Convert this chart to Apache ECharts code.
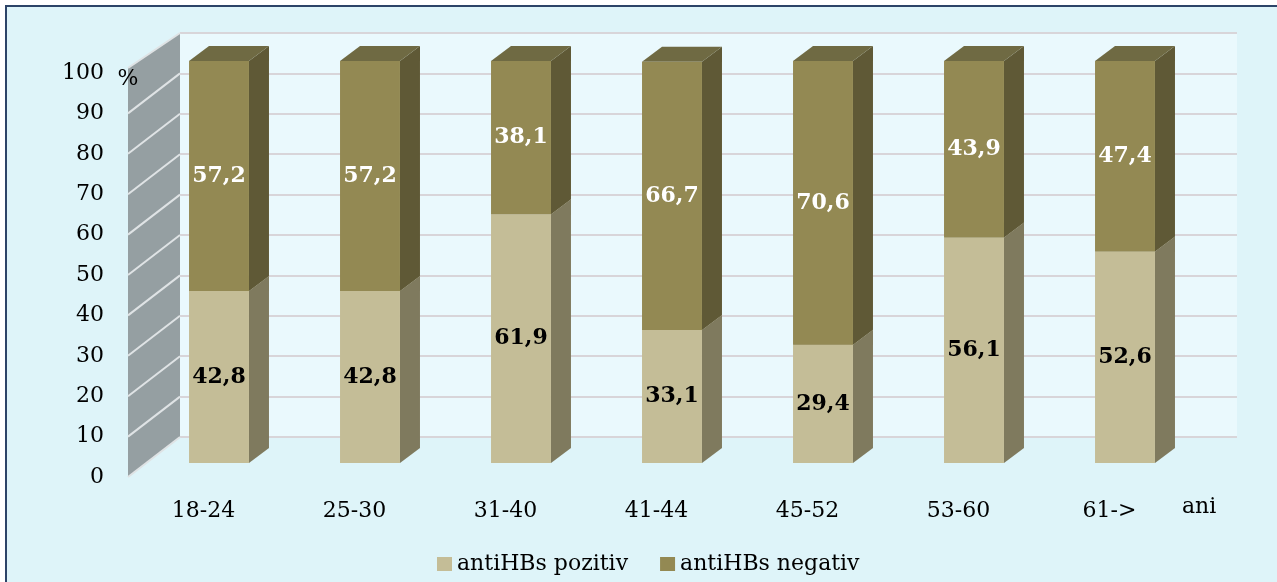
<!DOCTYPE html>
<html>
<head>
<meta charset="utf-8">
<script src="https://cdn.jsdelivr.net/npm/echarts@6/dist/echarts.min.js"></script>
<style>
  html, body { margin: 0; padding: 0; background: #fff; }
  #chart { width: 1277px; height: 582px; }
</style>
</head>
<body>
<div id="chart"></div>
<script>
// data
const categories = ["18-24", "25-30", "31-40", "41-44", "45-52", "53-60", "61->"];
const pozitiv = [42.8, 42.8, 61.9, 33.1, 29.4, 56.1, 52.6];
const negativ = [57.2, 57.2, 38.1, 66.7, 70.6, 43.9, 47.4];
const yTicks = [0, 10, 20, 30, 40, 50, 60, 70, 80, 90, 100];

const FONT = "DejaVu Serif";
const DX = 20, DY = -15;      // bar depth
const WX = 52, WY = -40;      // wall depth

const fmt = (v) => String(v).replace(".", ",");

// stacked ranges for the 3d side/top faces
const posRanges = pozitiv.map((v, i) => [i, 0, v]);
const negRanges = negativ.map((v, i) => [i, pozitiv[i], pozitiv[i] + v]);

function faces(sideColor, topColor) {
  return function (params, api) {
    const i = api.value(0);
    const lo = api.coord([i, api.value(1)]);
    const hi = api.coord([i, api.value(2)]);
    const w = api.size([1, 0])[0] * 0.397;
    const xl = lo[0] - w / 2, xr = lo[0] + w / 2;
    return {
      type: "group",
      children: [
        {
          type: "polygon",
          shape: { points: [[xr, lo[1]], [xr + DX, lo[1] + DY], [xr + DX, hi[1] + DY], [xr, hi[1]]] },
          style: { fill: sideColor }
        },
        {
          type: "polygon",
          shape: { points: [[xl, hi[1]], [xl + DX, hi[1] + DY], [xr + DX, hi[1] + DY], [xr, hi[1]]] },
          style: { fill: topColor }
        }
      ]
    };
  };
}

const myChart = echarts.init(document.getElementById("chart"));
myChart.setOption({
  backgroundColor: "#fff",
  animation: false,
  graphic: [
    {
      type: "rect",
      z: -10,
      shape: { x: 6, y: 6, width: 1290, height: 600 },
      style: { fill: "#def4f9", stroke: "#2c4468", lineWidth: 2 }
    }
  ],
  legend: {
    left: 432,
    top: 548,
    itemWidth: 15,
    itemHeight: 14,
    itemGap: 32,
    icon: "rect",
    textStyle: { fontFamily: FONT, fontSize: 22, color: "#000" },
    data: [
      { name: "antiHBs pozitiv", itemStyle: { color: "#c4bd97" } },
      { name: "antiHBs negativ", itemStyle: { color: "#938953" } }
    ]
  },
  grid: [
    // front plane of bars
    { left: 143.5, top: 61, width: 1057, height: 402 },
    // front plane of the walls (axis labels)
    { left: 128, top: 73, width: 1057, height: 404 },
    // back wall
    { left: 180, top: 33, width: 1057, height: 404, show: true, backgroundColor: "#eaf9fd", borderWidth: 0 }
  ],
  xAxis: [
    { gridIndex: 0, type: "category", data: categories, show: false },
    {
      gridIndex: 1,
      type: "category",
      data: categories,
      axisLine: { show: false },
      axisTick: { show: false },
      axisLabel: { margin: 23, fontFamily: FONT, fontSize: 22, color: "#000" },
      name: "ani",
      nameLocation: "end",
      nameGap: -3,
      nameTextStyle: {
        fontFamily: FONT, fontSize: 22, color: "#000",
        align: "left", verticalAlign: "top", padding: [19, 0, 0, 0]
      }
    },
    { gridIndex: 2, type: "category", data: categories, show: false }
  ],
  yAxis: [
    { gridIndex: 0, type: "value", min: 0, max: 100, show: false },
    {
      gridIndex: 1,
      type: "value",
      min: 0,
      max: 100,
      interval: 10,
      z: 10,
      axisLine: { show: false },
      axisTick: { show: false },
      splitLine: { show: false },
      axisLabel: { margin: 24, fontFamily: FONT, fontSize: 22, color: "#000" },
      name: "%",
      nameLocation: "end",
      nameGap: -17,
      nameTextStyle: { fontFamily: FONT, fontSize: 22, color: "#000" }
    },
    {
      gridIndex: 2,
      type: "value",
      min: 0,
      max: 100,
      interval: 10,
      axisLine: { show: false },
      axisTick: { show: false },
      axisLabel: { show: false },
      splitLine: { lineStyle: { color: "#d8d5d9", width: 2 } }
    }
  ],
  series: [
    {
      name: "sideWall",
      type: "custom",
      xAxisIndex: 1,
      yAxisIndex: 1,
      z: 1,
      silent: true,
      data: [[0, 0]],
      renderItem: function (params, api) {
        const cs = params.coordSys;
        return {
          type: "polygon",
          shape: {
            points: [
              [cs.x, cs.y + cs.height],
              [cs.x + WX, cs.y + cs.height + WY],
              [cs.x + WX, cs.y + WY],
              [cs.x, cs.y - 5]
            ]
          },
          style: { fill: "#959fa2" }
        };
      }
    },
    {
      name: "sideGrid",
      type: "custom",
      xAxisIndex: 1,
      yAxisIndex: 1,
      z: 1,
      silent: true,
      data: yTicks.map((v) => [0, v]),
      renderItem: function (params, api) {
        const cs = params.coordSys;
        const y = api.coord([0, api.value(1)])[1];
        const top = api.value(1) === 100 ? 5 : 0;
        return {
          type: "line",
          shape: { x1: cs.x, y1: y - top, x2: cs.x + WX, y2: y + WY },
          style: { stroke: "#dfe3e5", lineWidth: 2 }
        };
      }
    },
    {
      name: "antiHBs pozitiv",
      type: "custom",
      xAxisIndex: 0,
      yAxisIndex: 0,
      z: 3,
      encode: { x: 0, y: [1, 2] },
      data: posRanges,
      renderItem: faces("#7f7a5e", "#a8a07c")
    },
    {
      name: "antiHBs negativ",
      type: "custom",
      xAxisIndex: 0,
      yAxisIndex: 0,
      z: 3,
      encode: { x: 0, y: [1, 2] },
      data: negRanges,
      renderItem: faces("#5f5936", "#6f6a43")
    },
    {
      name: "antiHBs pozitiv",
      type: "bar",
      stack: "a",
      xAxisIndex: 0,
      yAxisIndex: 0,
      z: 4,
      barWidth: "39.7%",
      data: pozitiv,
      itemStyle: { color: "#c4bd97" },
      label: {
        show: true,
        position: "inside",
        formatter: (p) => fmt(p.value),
        fontFamily: FONT,
        fontWeight: "bold",
        fontSize: 22,
        color: "#000"
      }
    },
    {
      name: "antiHBs negativ",
      type: "bar",
      stack: "a",
      xAxisIndex: 0,
      yAxisIndex: 0,
      z: 4,
      barWidth: "39.7%",
      data: negativ,
      itemStyle: { color: "#938953" },
      label: {
        show: true,
        position: "inside",
        formatter: (p) => fmt(p.value),
        fontFamily: FONT,
        fontWeight: "bold",
        fontSize: 22,
        color: "#fff"
      }
    }
  ]
});
</script>
</body>
</html>
